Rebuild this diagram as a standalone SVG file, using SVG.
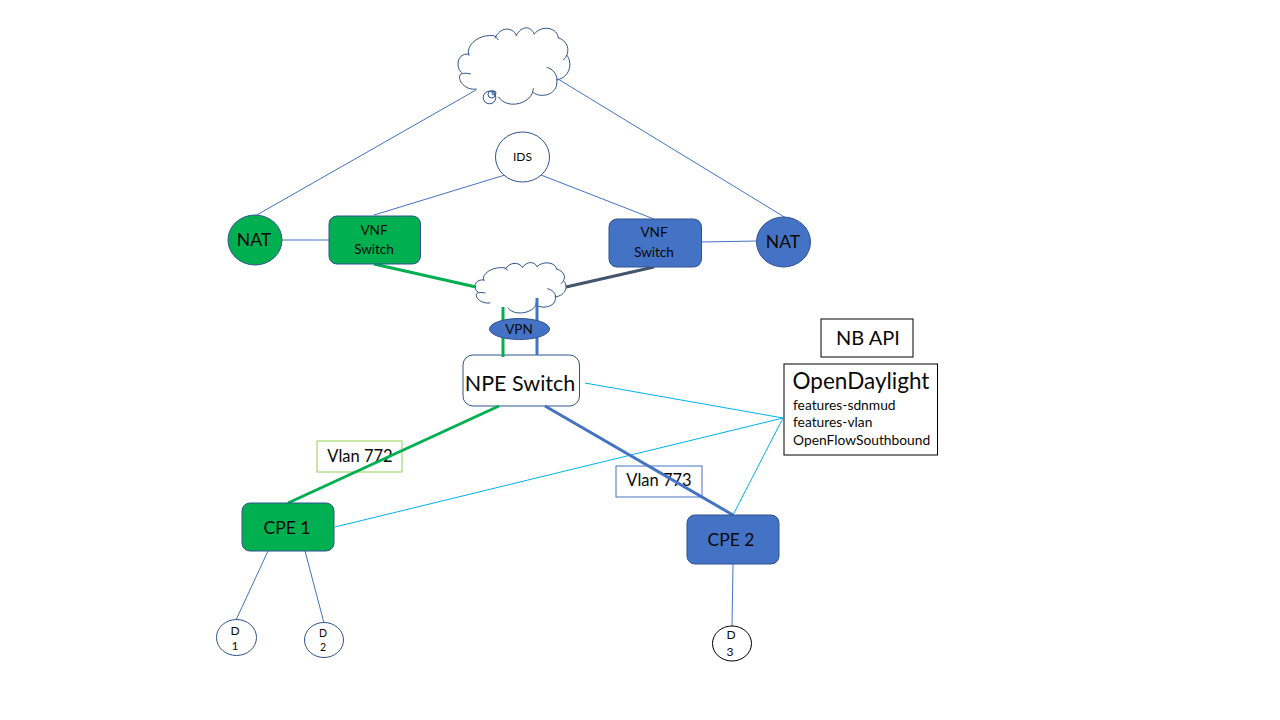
<svg xmlns="http://www.w3.org/2000/svg" xmlns:xlink="http://www.w3.org/1999/xlink" width="1280" height="720" viewBox="0 0 1280 720">
<style>
text{font-family:Lato,"Liberation Sans",sans-serif;fill:#0a0a0a;text-anchor:middle}
.cl{fill:#fff;stroke:none}
.co{fill:none;stroke:#2F528F;stroke-width:1;vector-effect:non-scaling-stroke}
.gn{fill:#00B050;stroke:#2F528F;stroke-width:1}
.bl{fill:#4472C4;stroke:#2F528F;stroke-width:1}
.wh{fill:#fff;stroke:#2F528F;stroke-width:1}
.bx{fill:#fff;stroke:#000;stroke-width:1}
.t{fill:none;stroke:#4472C4;stroke-width:1}
.c{fill:none;stroke:#00B0F0;stroke-width:1}
.g3{fill:none;stroke:#00B050;stroke-width:3}
.b3{fill:none;stroke:#4472C4;stroke-width:3}
</style>
<defs>
<g id="cloud">
<path class="cl" d="M476.700 89C464 91 456 78 461 74C457 70 456 58 463 55C465 54 467 54 469 55C465 45 480 33 495 36C505 26 512 30 516.500 35.700C525 25 530 28 534 34.300C545 25 556 30 558.300 38C568 42 570 52 566.700 55C573 63 570 78 556 80C557 90 540 99 533 92.300C531 103 508 108 498.300 96.700Z"/>
<path class="co" d="M476.700 89C464 91 456 78 461 74C463 73 467 73 470.700 74M462 72.700C457 70 456 58 463 55C465 54 467 54 469.500 54M469 55.700C465 45 480 33 495 36C496 37 497 38 498.300 40M495 38.300C500 27 512 26 516.700 35.700M516 35.700C522 25 531 26 534.300 34.300M534 34.300C542 24 558 28 558.300 38.300M558.300 37.700C570 42 570 54 563.300 60M566.700 55C573 63 570 78 556 80M546.700 67.300C556 70 558 78 556.700 84C556 94 542 99 532.700 92.300M533.300 88.300C533 103 508 111 498.300 96.700"/>
</g>
</defs>
<rect width="1280" height="720" fill="#fff"/>
<g id="internet-cloud">
<use xlink:href="#cloud" href="#cloud"/>
<circle class="co" cx="489.500" cy="97.500" r="6.300"/>
<circle class="co" cx="491.700" cy="94.300" r="3.700"/>
<circle class="co" cx="494" cy="93" r="2"/>
</g>
<g id="provider-cloud"><use xlink:href="#cloud" href="#cloud" transform="translate(475,262) scale(0.814,0.66) translate(-458,-27)"/></g>
<g id="npe"><rect class="wh" x="463" y="355" width="116.500" height="51" rx="10"/><text x="520" y="391" font-size="21.500">NPE Switch</text></g>
<g id="connectors">
<path class="t" d="M476 90L255 216M558 79L786 218M374 215L505 175M541 175L654 219M282 240H329M701 242L757 241M268 551L236 620M305 551L324 623M733 564L732 626"/>
<path class="c" d="M585 383L783 418L335 527M783 418L733 515"/>
<path class="g3" d="M374 264L476 287M503 307V357"/>
<path class="b3" d="M537 298V355"/>
<path d="M654 267L566 287" fill="none" stroke="#44546A" stroke-width="3"/>
</g>
<g id="vpn"><ellipse class="bl" cx="519.500" cy="329" rx="30" ry="10.500"/><text x="519" y="334" font-size="13.500">VPN</text></g>
<g id="ids"><ellipse class="wh" cx="522.500" cy="157" rx="27" ry="25"/><text x="522.500" y="161" font-size="12">IDS</text></g>
<g id="nat1"><ellipse class="gn" cx="255" cy="240" rx="27" ry="25"/><text x="254" y="246" font-size="17.500">NAT</text></g>
<g id="vnf1"><rect class="gn" x="329" y="216" width="91.500" height="48" rx="8"/><text x="374" y="235" font-size="13.500">VNF</text><text x="374" y="254" font-size="13.500">Switch</text></g>
<g id="vnf2"><rect class="bl" x="609" y="219" width="92.500" height="48" rx="8"/><text x="654" y="237" font-size="13.500">VNF</text><text x="654" y="257" font-size="13.500">Switch</text></g>
<g id="nat2"><ellipse class="bl" cx="783.500" cy="242" rx="27" ry="25"/><text x="783" y="248" font-size="17.500">NAT</text></g>
<g id="nb-api"><rect class="bx" x="821" y="319" width="92" height="38"/><text x="868" y="345" font-size="20">NB API</text></g>
<g id="opendaylight"><rect class="bx" x="784" y="364" width="153.500" height="91"/><text x="861" y="389" font-size="22.500">OpenDaylight</text><text x="793" y="410" font-size="13.800" style="text-anchor:start">features-sdnmud</text><text x="793" y="427" font-size="13.800" style="text-anchor:start">features-vlan</text><text x="793" y="445" font-size="13.800" style="text-anchor:start">OpenFlowSouthbound</text></g>
<g id="vlan772"><rect x="317" y="441" width="85" height="31" fill="none" stroke="#92D050"/><text x="360" y="462" font-size="16.500">Vlan 772</text></g>
<g id="vlan773"><rect x="616" y="466" width="86" height="31" fill="none" stroke="#4472C4"/><text x="659" y="486" font-size="16.500">Vlan 773</text></g>
<g id="connectors-upper">
<path class="g3" d="M499 406L288 503"/>
<path class="b3" d="M545 406L733 515"/>
</g>
<g id="cpe1"><rect class="gn" x="242" y="503" width="92" height="48" rx="8"/><text x="287" y="534" font-size="17.500">CPE 1</text></g>
<g id="cpe2"><rect class="bl" x="687" y="515" width="92" height="49" rx="8"/><text x="731" y="546" font-size="17.500">CPE 2</text></g>
<g id="d1"><ellipse class="wh" cx="236.500" cy="637.500" rx="20" ry="18"/><text x="235" y="635" font-size="12">D</text><text x="235" y="650" font-size="12">1</text></g>
<g id="d2"><ellipse class="wh" cx="324" cy="640" rx="19.500" ry="17.500"/><text x="323" y="637" font-size="10.500">D</text><text x="323" y="651" font-size="10.500">2</text></g>
<g id="d3"><ellipse cx="732" cy="643.500" rx="19.500" ry="17.500" fill="#fff" stroke="#000"/><text x="731" y="639" font-size="12">D</text><text x="730" y="656" font-size="12">3</text></g>
</svg>
